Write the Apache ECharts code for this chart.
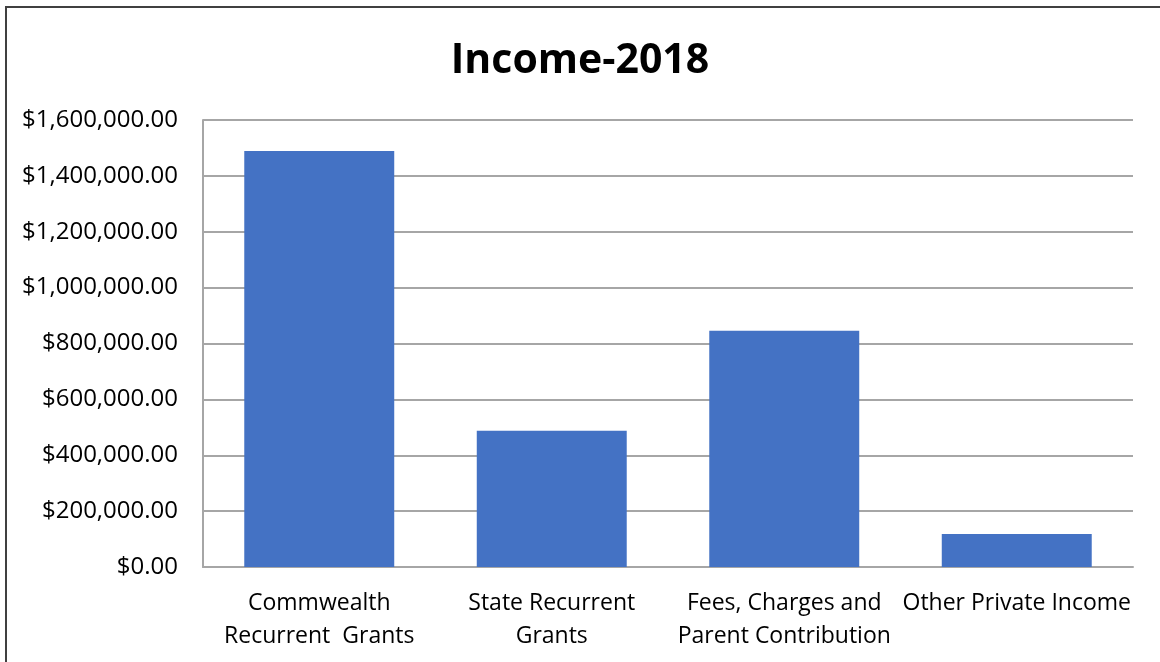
<!DOCTYPE html>
<html>
<head>
<meta charset="utf-8">
<script src="https://cdn.jsdelivr.net/npm/echarts@6/dist/echarts.min.js"></script>
<style>
html,body{margin:0;padding:0;background:#fff;}
#chart{width:1160px;height:662px;}
</style>
</head>
<body>
<div id="chart"></div>
<script>
const titleText = 'Income-2018';
const categories = ['Commwealth\nRecurrent  Grants', 'State Recurrent\nGrants', 'Fees, Charges and\nParent Contribution', 'Other Private Income'];
const incomeValues = [1489000, 487500, 845500, 118000];
const yTicks = [0, 200000, 400000, 600000, 800000, 1000000, 1200000, 1400000, 1600000];

const font = '"Open Sans", "Noto Sans", sans-serif';
const chart = echarts.init(document.getElementById('chart'));
function fmt(v) {
  return '$' + v.toLocaleString('en-US', {minimumFractionDigits: 2, maximumFractionDigits: 2});
}
chart.setOption({
  animation: false,
  backgroundColor: '#ffffff',
  graphic: [{
    type: 'rect',
    shape: {x: 6, y: 7, width: 1200, height: 700},
    style: {fill: 'none', stroke: '#404040', lineWidth: 2},
    silent: true
  }],
  title: {
    text: titleText,
    left: 'center',
    top: 36,
    textStyle: {fontFamily: font, fontWeight: 'bold', fontSize: 41, color: '#000'}
  },
  grid: {left: 203, right: 27, top: 120, bottom: 95, containLabel: false},
  xAxis: {
    type: 'category',
    data: categories,
    axisLine: {show: true, lineStyle: {color: '#a6a6a6', width: 2}},
    axisTick: {show: false},
    axisLabel: {
      interval: 0,
      margin: 20,
      fontFamily: font,
      fontSize: 23,
      lineHeight: 33,
      color: '#000'
    }
  },
  yAxis: {
    type: 'value',
    min: yTicks[0],
    max: yTicks[yTicks.length - 1],
    interval: yTicks[1] - yTicks[0],
    axisLine: {show: true, lineStyle: {color: '#a6a6a6', width: 2}},
    axisTick: {show: false},
    splitLine: {show: true, lineStyle: {color: '#a6a6a6', width: 2}},
    axisLabel: {
      margin: 25,
      fontFamily: font,
      fontSize: 24,
      color: '#000',
      formatter: fmt
    }
  },
  series: [{
    type: 'bar',
    data: incomeValues,
    barCategoryGap: '35.5%',
    itemStyle: {color: '#4472C4'}
  }]
});
</script>
</body>
</html>
